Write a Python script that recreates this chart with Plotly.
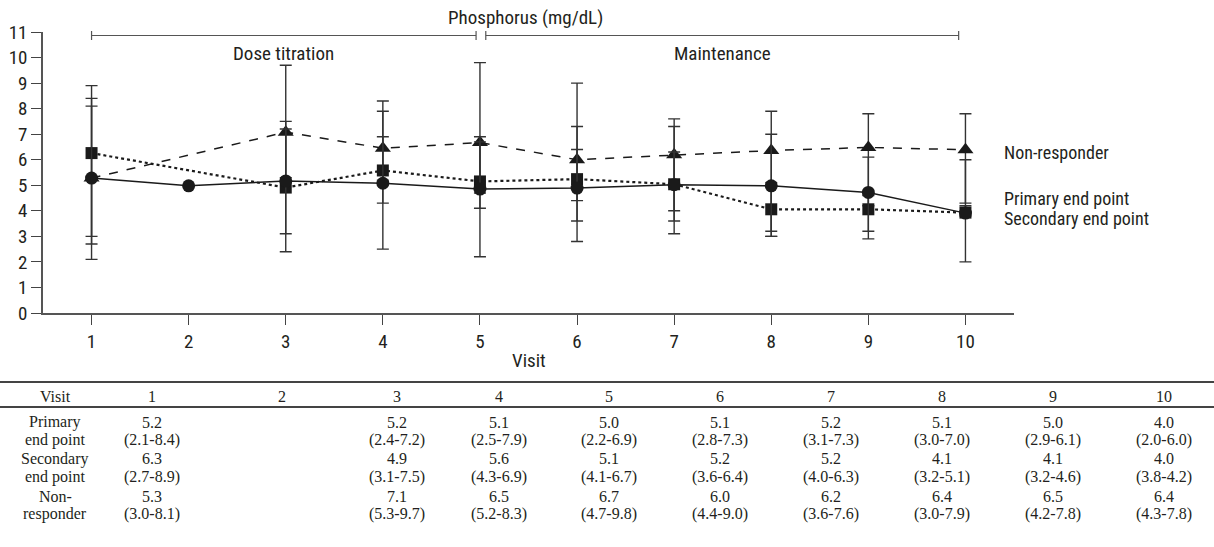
import plotly.graph_objects as go

W, H = 1214, 547
L, R, T, B = 43, 200, 32, 234
PW, PH = W - L - R, H - T - B

visits = [1, 2, 3, 4, 5, 6, 7, 8, 9, 10]

# plotted (chart) values
primary_plot = [5.28, 4.98, 5.17, 5.08, 4.85, 4.89, 5.02, 4.98, 4.72, 3.91]
secondary_plot = [6.26, None, 4.91, 5.58, 5.15, 5.24, 5.04, 4.06, 4.06, 3.93]
nonresp_plot = [5.28, None, 7.08, 6.45, 6.67, 6.00, 6.19, 6.36, 6.48, 6.39]

# table values (median and range)
primary_med = [5.2, None, 5.2, 5.1, 5.0, 5.1, 5.2, 5.1, 5.0, 4.0]
primary_lo = [2.1, None, 2.4, 2.5, 2.2, 2.8, 3.1, 3.0, 2.9, 2.0]
primary_hi = [8.4, None, 7.2, 7.9, 6.9, 7.3, 7.3, 7.0, 6.1, 6.0]
secondary_med = [6.3, None, 4.9, 5.6, 5.1, 5.2, 5.2, 4.1, 4.1, 4.0]
secondary_lo = [2.7, None, 3.1, 4.3, 4.1, 3.6, 4.0, 3.2, 3.2, 3.8]
secondary_hi = [8.9, None, 7.5, 6.9, 6.7, 6.4, 6.3, 5.1, 4.6, 4.2]
nonresp_med = [5.3, None, 7.1, 6.5, 6.7, 6.0, 6.2, 6.4, 6.5, 6.4]
nonresp_lo = [3.0, None, 5.3, 5.2, 4.7, 4.4, 3.6, 3.0, 4.2, 4.3]
nonresp_hi = [8.1, None, 9.7, 8.3, 9.8, 9.0, 7.6, 7.9, 7.8, 7.8]

y_ticks = list(range(0, 12))
phases = [("Dose titration", 1.0, 4.96), ("Maintenance", 5.06, 9.93)]
title_text = "Phosphorus (mg/dL)"
series_names = ["Non-responder", "Primary end point", "Secondary end point"]
row_labels = [("Primary", "end point"), ("Secondary", "end point"), ("Non-", "responder")]

SANS = "Roboto Condensed, Liberation Sans Narrow, DejaVu Sans Condensed, Roboto, sans-serif"
SERIF = "Liberation Serif, Times New Roman, serif"
INK = "#231f20"


def px_x(x):
    return (x - L) / PW


def px_y(y):
    return (H - B - y) / PH


def err(vals, lo, hi):
    plus, minus = [], []
    for v, l, h in zip(vals, lo, hi):
        if v is None or l is None:
            plus.append(None)
            minus.append(None)
        else:
            plus.append(h - v)
            minus.append(v - l)
    return plus, minus


fig = go.Figure()

specs = [
    (nonresp_plot, nonresp_lo, nonresp_hi, "dash", "triangle-up", 14, 1.5),
    (secondary_plot, secondary_lo, secondary_hi, "dot", "square", 12, 2.2),
    (primary_plot, primary_lo, primary_hi, "solid", "circle", 13, 1.5),
]
for vals, lo, hi, dash, sym, msize, lw in specs:
    plus, minus = err(vals, lo, hi)
    fig.add_trace(go.Scatter(
        x=visits, y=vals, mode="lines+markers", connectgaps=True,
        line=dict(color="#1a1a1a", width=lw, dash=dash),
        marker=dict(symbol=sym, size=msize, color="#1a1a1a"),
        error_y=dict(type="data", symmetric=False, array=plus, arrayminus=minus,
                     color="#333333", thickness=1.4, width=6),
        showlegend=False, cliponaxis=False,
    ))

fig.update_layout(
    width=W, height=H,
    margin=dict(l=L, r=R, t=T, b=B, autoexpand=False),
    paper_bgcolor="white", plot_bgcolor="white",
    font=dict(family=SANS, size=19, color=INK),
    xaxis=dict(range=[0.5, 10.5], tickmode="array", tickvals=visits,
               ticks="outside", ticklen=10, tickwidth=1.2, tickcolor="#444",
               showline=True, linecolor="#555", linewidth=1.5, showgrid=False,
               zeroline=False, automargin=False,
               tickfont=dict(family=SANS, size=19, color=INK)),
    yaxis=dict(range=[0, 11], tickmode="array", tickvals=y_ticks,
               ticks="outside", ticklen=10, tickwidth=1.2, tickcolor="#444",
               showline=True, linecolor="#555", linewidth=1.5, showgrid=False,
               zeroline=False, automargin=False,
               tickfont=dict(family=SANS, size=19, color=INK)),
)

ann = []
shapes = []


def add_text(text, x, y, font, xref="paper", xanchor="center"):
    ann.append(dict(text=text, x=x, y=y, xref=xref, yref="paper", xanchor=xanchor,
                    yanchor="middle", showarrow=False, font=font))


sfont = dict(family=SANS, size=19, color=INK)
lfont = dict(family=SANS, size=18, color=INK)

# title and phase brackets
add_text(title_text, px_x(525), px_y(17), sfont)
yb = px_y(35.5)
for name, x0, x1 in phases:
    shapes.append(dict(type="line", xref="x", yref="paper", x0=x0, x1=x1, y0=yb, y1=yb,
                       line=dict(color="#555", width=1.2)))
    for xe in (x0, x1):
        shapes.append(dict(type="line", xref="x", yref="paper", x0=xe, x1=xe,
                           y0=px_y(31), y1=px_y(40), line=dict(color="#555", width=1.2)))
    add_text(name, (x0 + x1) / 2, px_y(53), sfont, xref="x")

# series labels
for name, yy in zip(series_names, [152, 198, 218]):
    add_text(name, px_x(1002), px_y(yy), lfont, xanchor="left")

# x-axis title
add_text("Visit", 0.5, px_y(360), sfont)

# table
col_x = [55, 152, 282, 397, 499, 609, 720, 831, 942, 1053, 1164]
for yy in (382, 407):
    shapes.append(dict(type="line", xref="paper", yref="paper", x0=px_x(0), x1=px_x(W),
                       y0=px_y(yy), y1=px_y(yy), line=dict(color="#444", width=2)))

tfont = dict(family=SERIF, size=16, color=INK)
header = ["Visit"] + [str(v) for v in visits]
for cx, txt in zip(col_x, header):
    add_text(txt, px_x(cx), px_y(396), tfont)

rows = [(primary_med, primary_lo, primary_hi, 422),
        (secondary_med, secondary_lo, secondary_hi, 459),
        (nonresp_med, nonresp_lo, nonresp_hi, 496)]
for (med, lo, hi, y1), labels in zip(rows, row_labels):
    y2 = y1 + 18
    add_text(labels[0], px_x(col_x[0]), px_y(y1), tfont)
    add_text(labels[1], px_x(col_x[0]), px_y(y2), tfont)
    for cx, m, l, h in zip(col_x[1:], med, lo, hi):
        if m is None:
            continue
        add_text(f"{m:.1f}", px_x(cx), px_y(y1), tfont)
        add_text(f"({l:.1f}-{h:.1f})", px_x(cx), px_y(y2), tfont)

fig.update_layout(annotations=ann, shapes=shapes)
fig.write_html("out.html", config={"displayModeBar": False},
               post_script="document.body.style.margin='0';")
